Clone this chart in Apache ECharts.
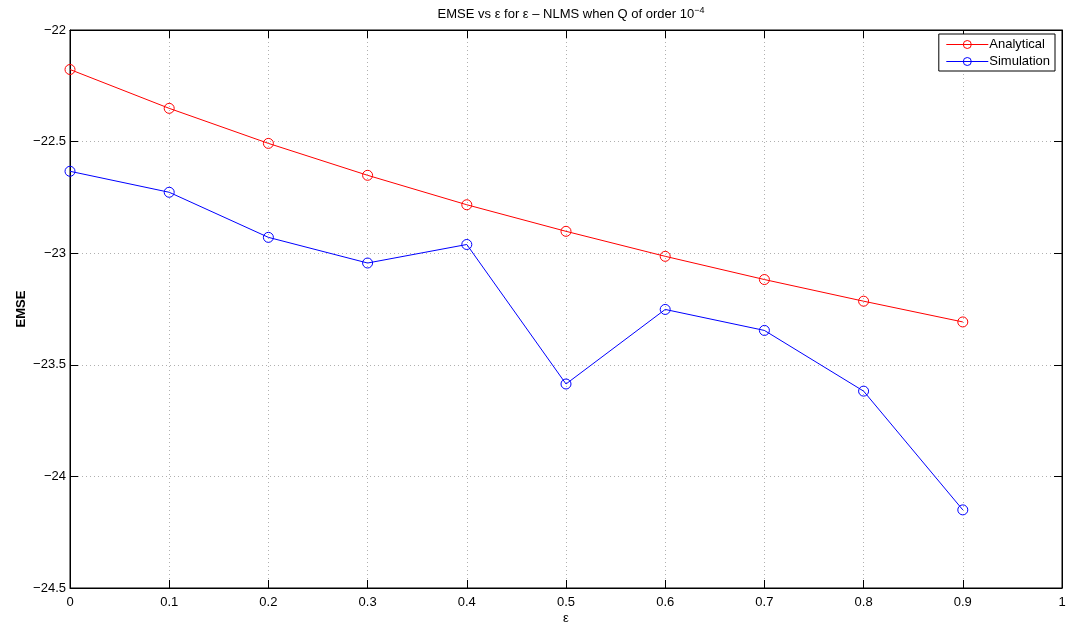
<!DOCTYPE html>
<html>
<head>
<meta charset="utf-8">
<script src="https://cdn.jsdelivr.net/npm/echarts@6/dist/echarts.min.js"></script>
<style>
  html, body { margin: 0; padding: 0; background: #fff; }
  #chart { width: 1068px; height: 623px; }
</style>
</head>
<body>
<div id="chart"></div>
<script>
// EMSE (dB) of the ε-NLMS filter against the regularisation ε
const epsilon = [0, 0.1, 0.2, 0.3, 0.4, 0.5, 0.6, 0.7, 0.8, 0.9];
const analytical = [-22.177, -22.351, -22.508, -22.651, -22.783, -22.902, -23.014, -23.118, -23.215, -23.308];
const simulation = [-22.633, -22.727, -22.929, -23.044, -22.961, -23.586, -23.252, -23.346, -23.618, -24.150];

// Axis ranges and tick spacing
const xTicks = { min: 0, max: 1, step: 0.1 };
const yTicks = { min: -24.5, max: -22, step: 0.5 };

const FONT = '"Liberation Sans", Arial, Helvetica, sans-serif';
const FS = 13;
const minus = v => String(v).replace('-', '\u2212');

const pairs = ys => epsilon.map((x, i) => [x, ys[i]]);

const chart = echarts.init(document.getElementById('chart'), null, { renderer: 'canvas' });

const tickStyle = { show: true, inside: true, length: 8, lineStyle: { color: '#000', width: 1 } };
const gridDots = { show: true, lineStyle: { color: '#b0b0b0', width: 1, type: [1, 3] } };

function lineSeries(name, color, ys) {
  return {
    name: name,
    type: 'line',
    data: pairs(ys),
    xAxisIndex: 0,
    yAxisIndex: 0,
    symbol: 'circle',
    symbolSize: 10,
    showSymbol: true,
    lineStyle: { color: color, width: 1 },
    itemStyle: { color: 'rgba(255,255,255,0)', borderColor: color, borderWidth: 1 },
    emphasis: { disabled: true },
    animation: false
  };
}

chart.setOption({
  backgroundColor: '#fff',
  animation: false,
  textStyle: { fontFamily: FONT },
  title: {
    text: 'EMSE vs ε for ε – NLMS when Q of order 10{sup|−4}',
    left: 566,
    top: 1,
    textAlign: 'center',
    textStyle: {
      fontFamily: FONT, fontSize: FS, fontWeight: 'normal', color: '#000',
      rich: { sup: { fontFamily: FONT, fontSize: 9, color: '#000', verticalAlign: 'top', padding: [0, 0, 8, 0] } }
    }
  },
  legend: {
    orient: 'vertical',
    right: 13,
    top: 34,
    itemWidth: 42,
    itemHeight: 10,
    itemGap: 4,
    padding: [4, 5, 3, 7],
    backgroundColor: '#fff',
    borderColor: '#000',
    borderWidth: 1,
    borderRadius: 0,
    lineStyle: { width: 1 },
    itemStyle: { borderWidth: 1 },
    textStyle: { fontFamily: FONT, fontSize: FS, color: '#000', padding: [0, 0, 0, -4] },
    data: ['Analytical', 'Simulation']
  },
  grid: {
    left: 70, right: 6, top: 30, bottom: 35,
    outerBoundsMode: 'none',
    containLabel: false,
    show: true, borderColor: '#000', borderWidth: 1, backgroundColor: '#fff'
  },
  xAxis: [
    {
      type: 'value', position: 'bottom',
      min: xTicks.min, max: xTicks.max, interval: xTicks.step,
      name: 'ε', nameLocation: 'middle', nameGap: 24, nameMoveOverlap: false,
      nameTextStyle: { fontFamily: FONT, fontSize: FS, color: '#000' },
      axisLine: { show: true, onZero: false, lineStyle: { color: '#000', width: 1 } },
      axisTick: tickStyle,
      axisLabel: { fontFamily: FONT, fontSize: FS, color: '#000', margin: 8, formatter: v => minus(+v.toFixed(1)) },
      splitLine: gridDots
    },
    {
      type: 'value', position: 'top',
      min: xTicks.min, max: xTicks.max, interval: xTicks.step,
      axisLine: { show: true, onZero: false, lineStyle: { color: '#000', width: 1 } },
      axisTick: tickStyle,
      axisLabel: { show: false },
      splitLine: { show: false }
    }
  ],
  yAxis: [
    {
      type: 'value', position: 'left',
      min: yTicks.min, max: yTicks.max, interval: yTicks.step,
      name: 'EMSE', nameLocation: 'middle', nameGap: 42, nameMoveOverlap: false,
      nameTextStyle: { fontFamily: FONT, fontSize: FS, fontWeight: 'bold', color: '#000' },
      axisLine: { show: true, onZero: false, lineStyle: { color: '#000', width: 1 } },
      axisTick: tickStyle,
      axisLabel: { fontFamily: FONT, fontSize: FS, color: '#000', margin: 4, formatter: v => minus(+v.toFixed(1)) },
      splitLine: gridDots
    },
    {
      type: 'value', position: 'right',
      min: yTicks.min, max: yTicks.max, interval: yTicks.step,
      axisLine: { show: true, onZero: false, lineStyle: { color: '#000', width: 1 } },
      axisTick: tickStyle,
      axisLabel: { show: false },
      splitLine: { show: false }
    }
  ],
  series: [
    lineSeries('Analytical', '#ff0000', analytical),
    lineSeries('Simulation', '#0000ff', simulation)
  ]
});
</script>
</body>
</html>
